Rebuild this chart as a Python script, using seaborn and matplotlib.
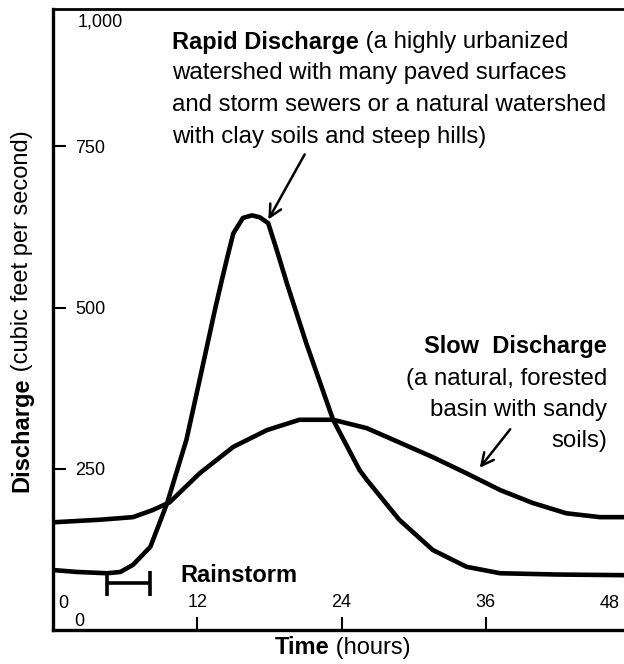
import matplotlib
matplotlib.use("Agg")
import matplotlib.pyplot as plt
import seaborn as sns
import pandas as pd

# ---- data ----
hours_rapid = [0, 2.0, 4.5, 5.6, 6.65, 8.1, 9.5, 11.1, 12.2, 13.5, 14.05,
               14.5, 15.0, 15.8, 16.55, 17.2, 17.9, 18.6, 19.5, 21.1, 23.3,
               25.5, 26.1, 28.8, 31.6, 34.4, 37.2, 42.0, 47.6]
q_rapid = [93, 90, 88, 90, 101, 129, 197, 295, 388, 499, 543,
           578, 615, 639, 643, 640, 631, 590, 535, 443, 326,
           248, 233, 171, 124, 98, 88, 86, 85]

hours_slow = [0, 3.9, 6.65, 8.3, 9.7, 12.2, 15.0, 17.8, 20.5, 23.3, 26.1,
              28.8, 31.6, 34.4, 37.2, 39.9, 42.7, 45.5, 47.6]
q_slow = [167, 171, 175, 186, 198, 243, 284, 310, 326, 326, 313,
          291, 268, 243, 217, 197, 181, 175, 175]

xtick_vals = [12, 24, 36]
xtick_labels = ["12", "24", "36"]
ytick_vals = [250, 500, 750]
ytick_labels = ["250", "500", "750"]

rain_start, rain_end, rain_level = 4.5, 8.1, 73

rapid_df = pd.DataFrame({"hours": hours_rapid, "q": q_rapid})
slow_df = pd.DataFrame({"hours": hours_slow, "q": q_slow})

# ---- style ----
sns.set_style("white", rc={"text.color": "black", "axes.labelcolor": "black",
                           "xtick.color": "black", "ytick.color": "black",
                           "xtick.bottom": True, "ytick.left": True})
FONT = ["Liberation Sans", "DejaVu Sans"]
plt.rcParams["font.family"] = FONT

fig = plt.figure(figsize=(6.24, 6.64), dpi=100)
ax = fig.add_axes([53 / 624, 1 - 630 / 664, 1 - 53 / 624, (630 - 9) / 664])

sns.lineplot(data=rapid_df, x="hours", y="q", ax=ax, color="black", lw=3.3,
             sort=False)
sns.lineplot(data=slow_df, x="hours", y="q", ax=ax, color="black", lw=3.3,
             sort=False)
for ln in ax.lines:
    ln.set_solid_joinstyle("round")
    ln.set_solid_capstyle("round")

ax.set_xlim(0, 47.5)
ax.set_ylim(0, 963)

# spines
for s in ["left", "bottom"]:
    ax.spines[s].set_linewidth(2.4)
    ax.spines[s].set_color("black")
ax.spines["top"].set_linewidth(2.0)
ax.spines["top"].set_color("black")
ax.spines["right"].set_visible(False)

# ticks (inward, labels inside)
ax.set_xticks(xtick_vals)
ax.set_xticklabels(xtick_labels)
ax.set_yticks(ytick_vals)
ax.set_yticklabels(ytick_labels)
ax.tick_params(axis="both", which="both", direction="in", length=9.5,
               width=1.5, color="black", labelcolor="black", labelsize=13,
               bottom=True, left=True, top=False, right=False)
ax.tick_params(axis="x", pad=-13.7)
ax.tick_params(axis="y", pad=-15.8)
for lab in ax.get_yticklabels():
    lab.set_horizontalalignment("left")
for lab in ax.get_xticklabels():
    lab.set_verticalalignment("bottom")

ax.set_xlabel("")
ax.set_ylabel("")

# extra tick-like labels
ax.annotate("1,000", xy=(78, 664 - 22), xycoords="figure pixels",
            fontsize=13, ha="left", va="center")
ax.annotate("0", xy=(63, 664 - 603), xycoords="figure pixels",
            fontsize=13, ha="center", va="center")
ax.annotate("0", xy=(79, 664 - 621), xycoords="figure pixels",
            fontsize=13, ha="center", va="center")
ax.annotate("48", xy=(620, 664 - 604), xycoords="figure pixels",
            fontsize=13, ha="right", va="center")

# axis titles with mixed weight
fig.text(0.035, 1 - 378 / 664, "Discharge", rotation=90, fontsize=17,
         fontweight="bold", ha="center", va="top")
fig.text(0.035, 1 - 378 / 664, " (cubic feet per second)", rotation=90,
         fontsize=17, ha="center", va="bottom")
fig.text(329 / 624, 1 - 648 / 664, "Time", fontsize=17, fontweight="bold",
         ha="right", va="center")
fig.text(329 / 624, 1 - 648 / 664, " (hours)", fontsize=17, ha="left",
         va="center")

# Rainstorm bar
ax.errorbar([(rain_start + rain_end) / 2], [rain_level],
            xerr=[[(rain_end - rain_start) / 2]], fmt="none", ecolor="black",
            elinewidth=2.6, capsize=9, capthick=2.6)
ax.annotate("Rainstorm", xy=(180, 664 - 576), xycoords="figure pixels",
            fontsize=17, fontweight="bold", ha="left", va="center")

# Rapid discharge annotation
rx, ry, gap = 172, 42, 31.5
t0 = ax.annotate("Rapid Discharge", xy=(rx, 664 - ry),
                 xycoords="figure pixels", fontsize=17, fontweight="bold",
                 ha="left", va="center")
ax.annotate(" (a highly urbanized", xy=(1.0, 0.5), xycoords=t0,
            fontsize=17.3, ha="left", va="center")
for i, line in enumerate(["watershed with many paved surfaces",
                          "and storm sewers or a natural watershed",
                          "with clay soils and steep hills)"]):
    ax.annotate(line, xy=(rx, 664 - ry - gap * (i + 1)),
                xycoords="figure pixels", fontsize=17.3, ha="left",
                va="center")
ax.annotate("", xy=(267, 664 - 222), xycoords="figure pixels",
            xytext=(306, 664 - 152), textcoords="figure pixels",
            arrowprops=dict(arrowstyle="->", lw=1.8, color="black",
                            mutation_scale=22))

# Slow discharge annotation
sx, sy = 607, 347
ax.annotate("Slow  Discharge", xy=(sx, 664 - sy), xycoords="figure pixels",
            fontsize=17, fontweight="bold", ha="right", va="center")
for i, line in enumerate(["(a natural, forested", "basin with sandy",
                          "soils)"]):
    ax.annotate(line, xy=(sx, 664 - sy - gap * (i + 1)),
                xycoords="figure pixels", fontsize=17.3, ha="right",
                va="center")
ax.annotate("", xy=(478, 664 - 470), xycoords="figure pixels",
            xytext=(512, 664 - 427), textcoords="figure pixels",
            arrowprops=dict(arrowstyle="->", lw=1.8, color="black",
                            mutation_scale=22))

fig.savefig("out.png", dpi=100)
